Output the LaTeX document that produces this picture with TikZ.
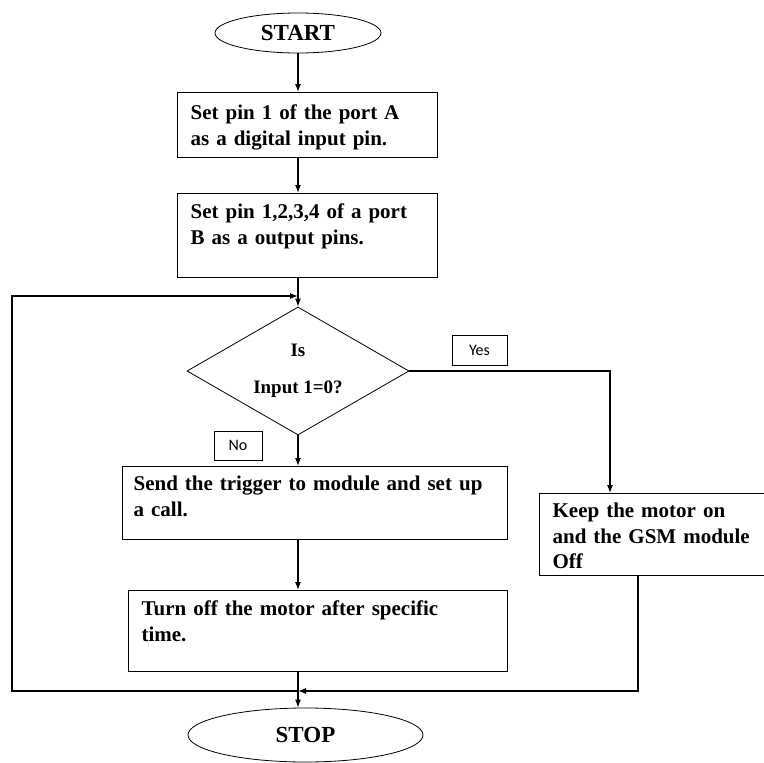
\documentclass[tikz,border=0pt]{standalone}
\usepackage{fontspec}
\setmainfont{Liberation Serif}
\newfontfamily\tagfont{Carlito}
\usetikzlibrary{shapes.geometric,arrows.meta}

\tikzset{
  stepbox/.style={draw, line width=1.2pt, anchor=north west, align=left,
    inner xsep=13pt, inner ysep=0pt, font=\fontsize{21pt}{25.5pt}\selectfont\bfseries},
  term/.style={draw, ellipse, line width=0.8pt, inner sep=0pt,
    font=\fontsize{23pt}{26pt}\selectfont\bfseries},
  tag/.style={draw, line width=0.8pt, inner sep=0pt,
    font=\tagfont\fontsize{16pt}{18pt}\selectfont},
}

\begin{document}
\begin{tikzpicture}[x=1pt, y=-1pt, line width=1.1pt, >={Latex[length=8pt,width=6pt]}]
  \useasboundingbox (0,0) rectangle (764,763);

  \node[term, minimum width=166pt, minimum height=40pt] (start) at (298,33) {START};
  \node[stepbox, text width=234pt, text height=27pt, text depth=38pt] (b1) at (177,92)
    {Set pin 1 of the port A\\as a digital input pin.};
  \node[stepbox, text width=234pt, text height=25pt, text depth=59pt] (b2) at (177,193)
    {Set pin 1,2,3,4 of a port\\B as a output pins.};

  \node[draw, diamond, aspect=1.7, line width=0.8pt, inner sep=0pt,
    minimum width=222pt, minimum height=128pt, align=center,
    font=\fontsize{19pt}{23pt}\selectfont\bfseries] (dec) at (298,371) {Is\\[14pt]Input 1=0?};
  \node[tag, minimum width=55pt, minimum height=30pt] (yes) at (479.5,350) {Yes};
  \node[tag, minimum width=48pt, minimum height=29pt] (no) at (238,445.5) {No};

  \node[stepbox, inner xsep=11pt, text width=363pt, text height=24pt, text depth=49pt] (b3) at (122,466)
    {Send the trigger to module and set up\\a call.};
  \node[stepbox, text width=353pt, text height=25pt, text depth=56pt] (b4) at (128,590)
    {Turn off the motor after specific\\time.};
  \node[stepbox, text width=215pt, text height=24pt, text depth=58pt] (b5) at (539,493)
    {Keep the motor on\\and the GSM module\\Off};

  \node[term, minimum width=235pt, minimum height=54pt] (stop) at (305.5,735) {STOP};

  \coordinate (loop) at (298,296);
  \coordinate (join) at (298,691);

  % main flow
  \draw[->] (start.south) -- (start.south |- b1.north);
  \draw[->] (b1.south -| start.south) -- (b2.north -| start.south);
  \draw[->] (b2.south -| start.south) -- (dec.north);
  \draw[->] (dec.south) -- (dec.south |- b3.north);
  \draw[->] (b3.south -| dec.south) -- (b4.north -| dec.south);
  \draw[->] (b4.south -| dec.south) -- (stop.north -| dec.south);

  % yes branch and loop back
  \draw[->] (dec.east) -| ([xshift=71pt]b5.north west);
  \draw[->] ([xshift=99pt]b5.south west) |- (join);
  \draw[->] (join) -- (12,691) |- (loop);
\end{tikzpicture}
\end{document}
